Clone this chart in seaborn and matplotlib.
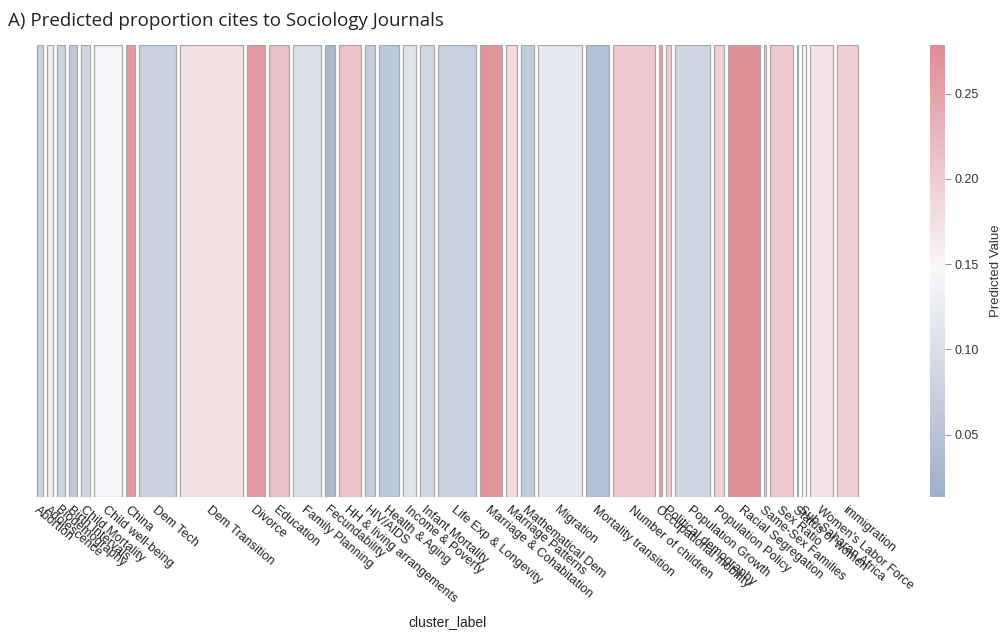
import numpy as np
import pandas as pd
import matplotlib
matplotlib.use("Agg")
import matplotlib.pyplot as plt
import seaborn as sns
from matplotlib.colors import Normalize
from matplotlib.cm import ScalarMappable

categories = ["Abortion", "Adolescence", "Biodemography", "Birth Intervals", "Child Mortality",
              "Child well-being", "China", "Dem Tech", "Dem Transition", "Divorce", "Education",
              "Family Planning", "Fecundability", "HH & living arrangements", "HIV/AIDS",
              "Health & Aging", "Income & Poverty", "Infant Mortality", "Life Exp & Longevity",
              "Marriage & Cohabitation", "Marriage Patterns", "Mathematical Dem", "Migration",
              "Mortality transition", "Number of children", "Occupational mobility",
              "Political demography", "Population Growth", "Population Policy",
              "Racial Segregation", "Same-Sex Families", "Sex Ratio", "Status of women",
              "Sub-Saharan Africa", "Women's Labor Force", "immigration"]
sizes = [10, 10, 12, 12, 13, 32, 13, 41, 67, 22, 24, 32, 14, 26, 14, 24, 17, 18, 42, 26,
         15, 17, 48, 27, 46, 7, 9, 39, 14, 36, 6, 27, 5, 8, 27, 25]
predicted = [0.08, 0.13, 0.08, 0.06, 0.085, 0.14, 0.26, 0.075, 0.175, 0.265, 0.215, 0.10,
             0.03, 0.21, 0.07, 0.06, 0.11, 0.09, 0.075, 0.27, 0.185, 0.065, 0.12, 0.045,
             0.205, 0.25, 0.20, 0.085, 0.195, 0.275, 0.19, 0.205, 0.08, 0.14, 0.17, 0.195]
vmin, vmax = 0.0135, 0.2785
cbar_ticks = [0.05, 0.10, 0.15, 0.20, 0.25]

df = pd.DataFrame({"cluster_label": categories, "size": sizes, "pred": predicted})
df["left"] = df["size"].cumsum() - df["size"]
df["center"] = df["left"] + df["size"] / 2

sns.set_theme(style="white")
plt.rcParams["font.family"] = ["Liberation Sans", "DejaVu Sans"]

cmap = sns.blend_palette(["#9eb0c8", "#f8f8fa", "#df8d94"], as_cmap=True)
norm = Normalize(vmin=vmin, vmax=vmax)

fig = plt.figure(figsize=(10.05, 6.32), dpi=100)
ax = fig.add_axes([35 / 1005, 135 / 632, 825 / 1005, 452 / 632])

gap = 3.2
ax.bar(df["left"] + gap / 2, np.ones(len(df)), width=df["size"] - gap, align="edge",
       color=[cmap(norm(v)) for v in df["pred"]], edgecolor="#a8a8a8", linewidth=0.9)
ax.set_xlim(0, df["size"].sum())
ax.set_ylim(0, 1)
ax.set_yticks([])
ax.set_xticks(df["center"])
ax.set_xticklabels(df["cluster_label"], rotation=-40, ha="left", va="top",
                   rotation_mode="anchor", fontsize=9, color="#222222")
ax.tick_params(axis="x", length=0, pad=5)
ax.set_xlabel("cluster_label", fontsize=10, color="#222222", labelpad=7)
sns.despine(ax=ax, left=True, bottom=True, top=True, right=True)

cax = fig.add_axes([930 / 1005, 135 / 632, 15 / 1005, 452 / 632])
sm = ScalarMappable(norm=norm, cmap=cmap)
cb = fig.colorbar(sm, cax=cax, ticks=cbar_ticks)
cb.outline.set_visible(False)
cb.ax.set_yticklabels([f"{t:.2f}" for t in cbar_ticks])
cb.ax.tick_params(labelsize=9, length=4, width=0.8, color="#999999", labelcolor="#333333", pad=3)
cb.set_label("Predicted Value", fontsize=9.5, color="#333333", labelpad=8)

fig.text(8 / 1005, 1 - 21 / 632, "A) Predicted proportion cites to Sociology Journals",
         fontsize=13.5, family="Open Sans", color="#222222", va="center", ha="left")

fig.savefig("out.png", dpi=100)
